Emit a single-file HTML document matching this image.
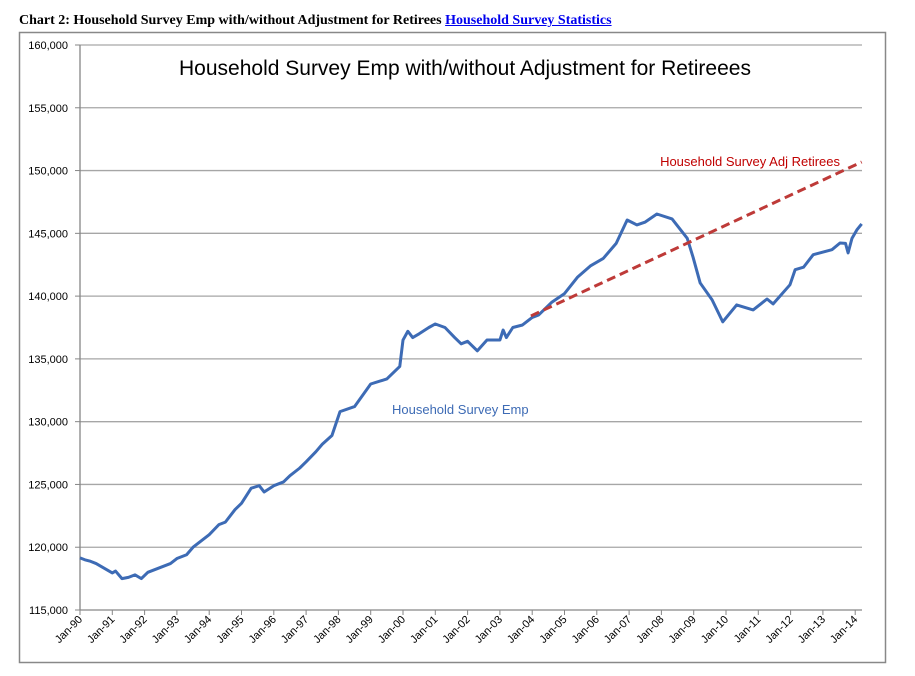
<!DOCTYPE html>
<html><head><meta charset="utf-8">
<style>
body{margin:0;background:#fff;width:915px;height:676px;overflow:hidden;position:relative;font-family:"Liberation Sans",sans-serif}
#hdr{position:absolute;left:19px;top:13px;font-family:"Liberation Serif",serif;font-weight:bold;font-size:14px;color:#000;white-space:nowrap}
#hdr a{color:#0000ee;text-decoration:underline}
svg{position:absolute;left:0;top:0}
</style></head><body>
<div id="hdr">Chart 2: Household Survey Emp with/without Adjustment for Retirees <a>Household Survey Statistics</a></div>
<svg id="c" width="915" height="676"></svg>
<script>
const dates=[1990.0,1990.15,1990.3,1990.5,1990.7,1991.0,1991.1,1991.3,1991.5,1991.7,1991.9,1992.1,1992.5,1992.8,1993.0,1993.3,1993.5,1993.8,1994.0,1994.3,1994.5,1994.8,1995.0,1995.3,1995.55,1995.7,1996.0,1996.3,1996.5,1996.8,1997.0,1997.3,1997.5,1997.8,1998.05,1998.5,1999.0,1999.5,1999.9,2000.0,2000.15,2000.3,2000.5,2000.8,2001.0,2001.3,2001.6,2001.8,2002.0,2002.3,2002.6,2003.0,2003.1,2003.2,2003.4,2003.7,2004.0,2004.2,2004.6,2005.0,2005.4,2005.8,2006.2,2006.6,2006.94,2007.24,2007.5,2007.86,2008.33,2008.8,2008.98,2009.2,2009.57,2009.9,2010.33,2010.84,2011.27,2011.46,2011.98,2012.14,2012.4,2012.7,2013.28,2013.53,2013.7,2013.78,2013.9,2014.05,2014.2];
const empValues=[119150,119000,118900,118700,118400,117950,118100,117500,117600,117800,117500,118000,118400,118700,119100,119400,120000,120600,121000,121800,122000,123000,123500,124700,124900,124400,124900,125200,125700,126300,126800,127600,128200,128900,130800,131200,133000,133400,134400,136500,137200,136700,137000,137500,137780,137500,136700,136200,136400,135640,136500,136500,137300,136700,137500,137700,138300,138500,139500,140200,141500,142400,143000,144200,146060,145670,145900,146540,146150,144600,143100,141050,139700,137950,139300,138900,139770,139380,140900,142100,142300,143300,143700,144230,144200,143440,144600,145270,145750];
const adjDates=[2003.96,2014.2];
const adjValues=[138420,150680];
const yTicks=[115000,120000,125000,130000,135000,140000,145000,150000,155000,160000];
const xTickYears=[1990,1991,1992,1993,1994,1995,1996,1997,1998,1999,2000,2001,2002,2003,2004,2005,2006,2007,2008,2009,2010,2011,2012,2013,2014];
const xLabels=["Jan-90","Jan-91","Jan-92","Jan-93","Jan-94","Jan-95","Jan-96","Jan-97","Jan-98","Jan-99","Jan-00","Jan-01","Jan-02","Jan-03","Jan-04","Jan-05","Jan-06","Jan-07","Jan-08","Jan-09","Jan-10","Jan-11","Jan-12","Jan-13","Jan-14"];

const NS="http://www.w3.org/2000/svg";
const svg=document.getElementById('c');
const X0=80,X1=862,Y0=610,Y1=45;
const xs=t=>X0+(t-1990)*32.3;
const ys=v=>Y0-(v-115000)/45000*(Y0-Y1);
function mk(tag,attrs,parent){const e=document.createElementNS(NS,tag);for(const k in attrs)e.setAttribute(k,attrs[k]);(parent||svg).appendChild(e);return e;}

const frame=mk('rect',{x:19.5,y:32.5,width:866,height:630,fill:'none',stroke:'#888','stroke-width':1.5});



yTicks.forEach((v,i)=>{
  const y=ys(v);
  if(i>0){const g=mk('line',{x1:X0,x2:X1,y1:y,y2:y,stroke:'#a6a6a6','stroke-width':1.3});
  
  }
  const tk=mk('line',{x1:X0-5,x2:X0,y1:y,y2:y,stroke:'#868686'});
  
  
  const t=mk('text',{x:68,y:y+4,'text-anchor':'end','font-size':11,fill:'#000'});
  t.textContent=v.toLocaleString('en-US');
  
  
});
const ya=mk('line',{x1:X0,x2:X0,y1:Y1,y2:Y0,stroke:'#868686','stroke-width':1.3});


const xa=mk('line',{x1:X0,x2:X1,y1:Y0,y2:Y0,stroke:'#868686','stroke-width':1.3});


xTickYears.forEach((yr,i)=>{
  const x=xs(yr);
  const tk=mk('line',{x1:x,x2:x,y1:Y0,y2:Y0+5,stroke:'#868686'});
  
  
  const t=mk('text',{x:x+3,y:Y0+10,'text-anchor':'end','font-size':11,fill:'#000',transform:`rotate(-45 ${x+3} ${Y0+10})`});
  t.textContent=xLabels[i];
  
  
});

const emp=mk('polyline',{points:dates.map((d,i)=>xs(d)+','+ys(empValues[i])).join(' '),fill:'none',stroke:'#3d6bb5','stroke-width':3,'stroke-linejoin':'round'});


const adj=mk('polyline',{points:adjDates.map((d,i)=>xs(d)+','+ys(adjValues[i])).join(' '),fill:'none',stroke:'#be3a38','stroke-width':3,'stroke-dasharray':'9,5'});



const title=mk('text',{x:465,y:75,'text-anchor':'middle','font-size':21,fill:'#000'});
title.textContent='Household Survey Emp with/without Adjustment for Retireees';


const l1=mk('text',{x:840,y:166,'text-anchor':'end','font-size':13,fill:'#c00000'});
l1.textContent='Household Survey Adj Retirees';


const l2=mk('text',{x:392,y:414,'font-size':13,fill:'#3d6bb5'});
l2.textContent='Household  Survey Emp';
l2.setAttribute('xml:space','preserve');


</script>
</body></html>
